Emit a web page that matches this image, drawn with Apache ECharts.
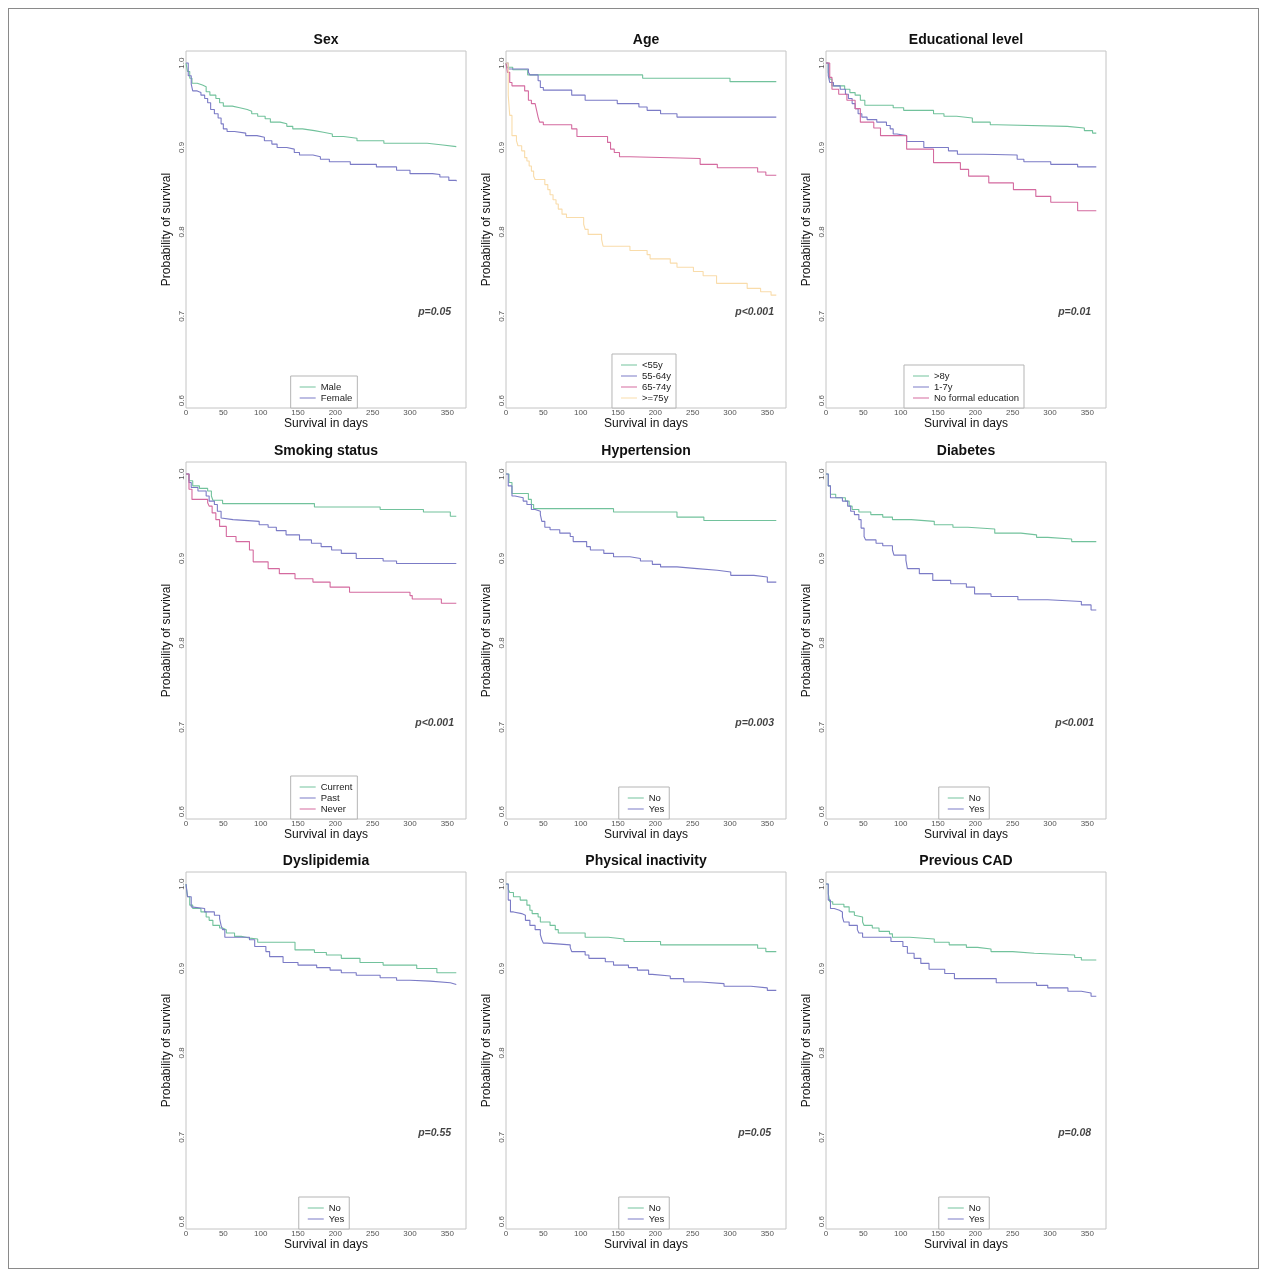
<!DOCTYPE html>
<html><head><meta charset="utf-8">
<script src="https://cdn.jsdelivr.net/npm/echarts@6/dist/echarts.min.js"></script>
<style>
body{margin:0;background:#fff;}
#frame{position:absolute;left:8px;top:8px;width:1249px;height:1259px;border:1px solid #8a8a8a;box-sizing:content-box;}
.panel{position:absolute;width:340px;height:410px;}
</style></head><body>
<div id="frame"></div>
<script>
// ---- tick labels ----
const xTicks = [0, 50, 100, 150, 200, 250, 300, 350];
const yTicks = [0.6, 0.7, 0.8, 0.9, 1.0];

// ---- panel titles, legend labels and p-values ----
const titles = ['Sex','Age','Educational level','Smoking status','Hypertension','Diabetes','Dyslipidemia','Physical inactivity','Previous CAD'];
const pValues = ['p=0.05','p<0.001','p=0.01','p<0.001','p=0.003','p<0.001','p=0.55','p=0.05','p=0.08'];
const sexGroups = ['Male','Female'];
const ageGroups = ['<55y','55-64y','65-74y','>=75y'];
const eduGroups = ['>8y','1-7y','No formal education'];
const smokeGroups = ['Current','Past','Never'];
const ynGroups = ['No','Yes'];

// ---- survival step points [day, probability] ----
const sexMale = [[0,1],[2,0.99],[5,0.982],[8,0.976],[15,0.974],[22,0.972],[27,0.966],[32,0.962],[40,0.958],[45,0.953],[50,0.949],[62,0.947],[72,0.945],[82,0.943],[88,0.94],[96,0.937],[106,0.934],[113,0.93],[126,0.928],[135,0.925],[143,0.922],[156,0.92],[172,0.918],[184,0.916],[196,0.913],[211,0.911],[229,0.908],[265,0.905],[323,0.903],[344,0.901],[362,0.901]];
const sexFemale = [[0,1],[3,0.985],[7,0.975],[9,0.967],[15,0.965],[20,0.962],[25,0.958],[29,0.953],[33,0.945],[38,0.94],[43,0.935],[47,0.928],[50,0.922],[55,0.919],[65,0.917],[80,0.914],[95,0.912],[105,0.908],[115,0.904],[122,0.9],[135,0.898],[145,0.894],[152,0.891],[170,0.889],[180,0.886],[192,0.883],[220,0.88],[255,0.877],[282,0.873],[300,0.869],[330,0.868],[340,0.865],[352,0.861],[362,0.86]];

const ageU55 = [[0,1],[1,0.995],[9,0.992],[29,0.986],[183,0.982],[300,0.978],[362,0.978]];
const age55 = [[0,1],[3,0.993],[30,0.989],[32,0.986],[43,0.979],[46,0.971],[50,0.968],[88,0.962],[106,0.956],[149,0.952],[178,0.948],[189,0.944],[207,0.94],[229,0.936],[362,0.936]];
const age65 = [[0,1],[2,0.989],[5,0.977],[8,0.973],[25,0.967],[30,0.956],[34,0.952],[39,0.95],[41,0.944],[43,0.936],[45,0.93],[50,0.927],[88,0.922],[95,0.913],[136,0.906],[140,0.898],[145,0.894],[152,0.889],[166,0.887],[260,0.88],[283,0.876],[337,0.871],[348,0.867],[362,0.867]];
const age75 = [[0,1],[3,0.962],[5,0.938],[8,0.914],[14,0.908],[16,0.902],[21,0.896],[25,0.888],[28,0.884],[31,0.878],[34,0.872],[37,0.866],[39,0.862],[52,0.856],[56,0.85],[59,0.844],[63,0.838],[67,0.833],[70,0.827],[75,0.821],[81,0.817],[104,0.809],[106,0.803],[110,0.797],[128,0.791],[130,0.783],[166,0.778],[189,0.773],[193,0.768],[220,0.763],[229,0.758],[251,0.753],[264,0.748],[282,0.739],[323,0.733],[341,0.729],[355,0.725],[362,0.725]];

const edu8 = [[0,1],[3,0.989],[5,0.981],[8,0.973],[25,0.969],[32,0.965],[39,0.962],[46,0.956],[52,0.95],[90,0.947],[104,0.944],[144,0.94],[158,0.937],[175,0.935],[196,0.93],[220,0.927],[229,0.925],[323,0.923],[346,0.92],[357,0.917],[362,0.917]];
const edu17 = [[0,1],[3,0.985],[5,0.977],[10,0.973],[19,0.969],[26,0.963],[30,0.958],[35,0.952],[39,0.946],[43,0.94],[48,0.936],[55,0.933],[68,0.93],[81,0.926],[86,0.922],[90,0.916],[95,0.914],[108,0.907],[131,0.9],[164,0.896],[176,0.892],[211,0.891],[256,0.886],[265,0.883],[301,0.88],[337,0.877],[362,0.877]];
const eduNone = [[0,1],[5,0.983],[8,0.969],[17,0.963],[28,0.956],[39,0.946],[46,0.93],[64,0.923],[73,0.914],[108,0.898],[144,0.882],[180,0.874],[191,0.866],[218,0.858],[251,0.85],[281,0.842],[301,0.835],[337,0.825],[362,0.825]];

const smokeCurrent = [[0,1],[4,0.992],[9,0.986],[18,0.983],[29,0.98],[34,0.974],[36,0.969],[49,0.965],[172,0.961],[260,0.958],[318,0.955],[354,0.95],[362,0.95]];
const smokePast = [[0,1],[4,0.99],[7,0.984],[16,0.98],[27,0.974],[31,0.968],[38,0.964],[42,0.956],[47,0.948],[49,0.946],[63,0.944],[98,0.94],[110,0.937],[121,0.933],[134,0.928],[152,0.922],[168,0.918],[181,0.914],[195,0.91],[208,0.906],[228,0.9],[264,0.897],[282,0.894],[362,0.894]];
const smokeNever = [[0,1],[4,0.982],[8,0.97],[29,0.966],[31,0.962],[35,0.954],[40,0.946],[45,0.938],[54,0.926],[67,0.92],[85,0.91],[90,0.896],[110,0.888],[125,0.882],[146,0.876],[170,0.872],[193,0.866],[219,0.86],[300,0.856],[303,0.852],[342,0.847],[362,0.847]];

const htnNo = [[0,1],[4,0.99],[8,0.977],[30,0.97],[34,0.964],[37,0.959],[144,0.955],[229,0.949],[265,0.945],[362,0.945]];
const htnYes = [[0,1],[3,0.986],[8,0.974],[12,0.972],[23,0.968],[28,0.964],[34,0.958],[39,0.956],[46,0.952],[48,0.944],[52,0.937],[59,0.934],[72,0.93],[86,0.926],[90,0.92],[108,0.914],[113,0.91],[131,0.906],[144,0.902],[166,0.9],[180,0.897],[196,0.893],[207,0.89],[229,0.888],[256,0.886],[283,0.884],[301,0.88],[332,0.878],[350,0.872],[362,0.872]];

const dmNo = [[0,1],[3,0.986],[6,0.976],[13,0.972],[26,0.968],[31,0.962],[35,0.958],[44,0.955],[60,0.952],[76,0.949],[89,0.946],[114,0.944],[145,0.94],[170,0.937],[190,0.935],[226,0.93],[261,0.928],[282,0.925],[297,0.923],[329,0.92],[362,0.92]];
const dmYes = [[0,1],[3,0.986],[6,0.972],[22,0.968],[29,0.962],[33,0.956],[38,0.952],[44,0.946],[47,0.936],[51,0.926],[53,0.922],[67,0.918],[76,0.915],[89,0.91],[91,0.904],[107,0.898],[109,0.888],[125,0.882],[143,0.874],[167,0.87],[188,0.866],[199,0.858],[221,0.855],[257,0.851],[297,0.849],[342,0.845],[355,0.839],[362,0.839]];

const dlNo = [[0,1],[2,0.985],[5,0.975],[9,0.971],[20,0.967],[27,0.961],[31,0.957],[36,0.951],[45,0.948],[49,0.946],[54,0.942],[65,0.938],[74,0.936],[85,0.935],[96,0.931],[146,0.922],[172,0.919],[188,0.916],[208,0.912],[233,0.907],[264,0.904],[309,0.9],[336,0.895],[362,0.895]];
const dlYes = [[0,1],[2,0.985],[7,0.973],[9,0.971],[25,0.967],[38,0.963],[45,0.959],[47,0.951],[49,0.946],[52,0.937],[85,0.934],[92,0.926],[107,0.92],[112,0.914],[130,0.907],[150,0.904],[175,0.901],[193,0.898],[208,0.895],[228,0.892],[260,0.889],[282,0.886],[300,0.885],[327,0.883],[354,0.881],[362,0.881]];

const paNo = [[0,1],[3,0.994],[5,0.99],[10,0.985],[19,0.981],[28,0.975],[32,0.969],[35,0.965],[43,0.961],[46,0.955],[59,0.951],[66,0.946],[70,0.942],[106,0.937],[137,0.935],[158,0.932],[207,0.928],[337,0.924],[348,0.92],[362,0.92]];
const paYes = [[0,1],[3,0.981],[6,0.967],[10,0.965],[21,0.963],[26,0.957],[32,0.951],[39,0.946],[46,0.94],[48,0.934],[50,0.93],[55,0.928],[86,0.925],[88,0.92],[106,0.916],[111,0.912],[133,0.908],[144,0.904],[164,0.901],[176,0.898],[191,0.893],[196,0.891],[220,0.888],[238,0.884],[261,0.882],[292,0.879],[328,0.877],[350,0.874],[362,0.874]];

const cadNo = [[0,1],[3,0.989],[5,0.979],[9,0.976],[24,0.973],[31,0.967],[38,0.963],[40,0.961],[49,0.955],[51,0.951],[62,0.948],[71,0.944],[85,0.941],[89,0.937],[112,0.935],[145,0.931],[165,0.928],[188,0.925],[203,0.923],[221,0.92],[250,0.918],[279,0.916],[333,0.913],[342,0.91],[362,0.91]];
const cadYes = [[0,1],[3,0.981],[6,0.971],[11,0.969],[18,0.967],[22,0.961],[24,0.955],[31,0.951],[42,0.946],[44,0.942],[49,0.937],[87,0.932],[103,0.926],[109,0.918],[118,0.912],[127,0.906],[138,0.899],[159,0.894],[172,0.888],[228,0.883],[282,0.88],[297,0.877],[324,0.873],[342,0.871],[355,0.867],[362,0.867]];

// annotation anchor for the p-value text (data coordinates)
const pAnchor = [333, 0.7055];

const GREEN = '#72c29c', PURPLE = '#7b7bc6', PINK = '#d46a9f', YELLOW = '#f9dcaa';
const FONT = '"Liberation Sans", Arial, sans-serif';

const panelData = [
  {groups: sexGroups, curves: [sexMale, sexFemale], colors: [GREEN, PURPLE]},
  {groups: ageGroups, curves: [ageU55, age55, age65, age75], colors: [GREEN, PURPLE, PINK, YELLOW]},
  {groups: eduGroups, curves: [edu8, edu17, eduNone], colors: [GREEN, PURPLE, PINK]},
  {groups: smokeGroups, curves: [smokeCurrent, smokePast, smokeNever], colors: [GREEN, PURPLE, PINK]},
  {groups: ynGroups, curves: [htnNo, htnYes], colors: [GREEN, PURPLE]},
  {groups: ynGroups, curves: [dmNo, dmYes], colors: [GREEN, PURPLE]},
  {groups: ynGroups, curves: [dlNo, dlYes], colors: [GREEN, PURPLE]},
  {groups: ynGroups, curves: [paNo, paYes], colors: [GREEN, PURPLE]},
  {groups: ynGroups, curves: [cadNo, cadYes], colors: [GREEN, PURPLE]}
];

const plotTops = [51, 462, 872];
const plotLefts = [186, 506, 826];

panelData.forEach((pd, i) => {
  const r = Math.floor(i / 3), c = i % 3;
  const div = document.createElement('div');
  div.className = 'panel';
  div.style.left = (plotLefts[c] - 30) + 'px';
  div.style.top = (plotTops[r] - 30) + 'px';
  document.body.appendChild(div);
  const chart = echarts.init(div, null, {renderer: 'canvas'});
  const series = pd.curves.map((d, k) => ({
    name: pd.groups[k], type: 'line', step: 'end', data: d,
    symbol: 'none', showSymbol: false, color: pd.colors[k],
    lineStyle: {width: 1.1, color: pd.colors[k]}, silent: true
  }));
  series.push({
    type: 'scatter', data: [pAnchor], symbolSize: 0, silent: true,
    label: {show: true, position: 'inside', formatter: pValues[i],
      fontSize: 10.5, fontWeight: 'bold', fontStyle: 'italic', color: '#111', fontFamily: FONT}
  });
  chart.setOption({
    animation: false,
    textStyle: {fontFamily: FONT},
    title: {text: titles[i], left: 'center', top: 12, padding: 0,
      textStyle: {fontSize: 14, fontWeight: 'bold', color: '#111', fontFamily: FONT}},
    legend: {
      data: pd.groups, orient: 'vertical', left: 'center', bottom: 23,
      icon: 'rect', itemGap: 1, itemWidth: 16, itemHeight: 1, padding: [6, 5, 5, 9],
      borderColor: '#b5b5b5', borderWidth: 1, backgroundColor: '#fff',
      textStyle: {fontSize: 9.5, lineHeight: 10, color: '#222', fontFamily: FONT}
    },
    grid: {left: 30, right: 30, top: 30, height: 357, containLabel: false, outerBoundsMode: 'none',
      show: true, borderColor: '#c4c4c4', borderWidth: 1, backgroundColor: 'transparent'},
    xAxis: {
      type: 'value', min: 0, max: 375, interval: 50,
      axisLine: {show: false}, axisTick: {show: false}, splitLine: {show: false},
      axisLabel: {fontSize: 8, color: '#555', margin: 1, showMaxLabel: false, fontFamily: FONT,
        formatter: v => (xTicks.indexOf(v) >= 0 ? String(v) : '')},
      name: 'Survival in days', nameLocation: 'middle', nameGap: 10, nameMoveOverlap: false,
      nameTextStyle: {fontSize: 12, color: '#111', fontFamily: FONT}
    },
    yAxis: {
      type: 'value', min: 0.5913, max: 1.0143,
      axisLine: {show: false}, axisTick: {show: false}, splitLine: {show: false},
      axisLabel: {customValues: yTicks, rotate: 90, fontSize: 8, color: '#555', margin: 0, fontFamily: FONT,
        formatter: v => v.toFixed(1)},
      name: 'Probability of survival', nameLocation: 'middle', nameGap: 13, nameMoveOverlap: false,
      nameTextStyle: {fontSize: 12, color: '#111', fontFamily: FONT}
    },
    series: series
  });
});
</script>
</body></html>
